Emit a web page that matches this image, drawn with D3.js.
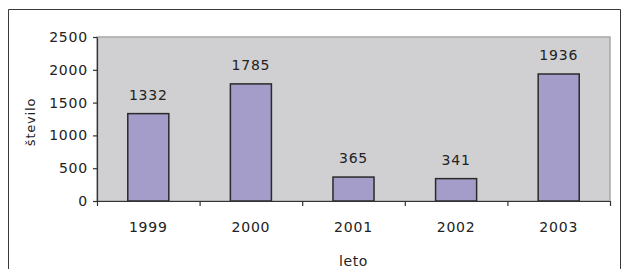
<!DOCTYPE html>
<html>
<head>
<meta charset="utf-8">
<script src="https://cdn.jsdelivr.net/npm/d3@7"></script>
<style>
  body { margin: 0; background: #fff; }
  text { font-family: "DejaVu Sans", sans-serif; fill: #222; }
</style>
</head>
<body>
<div id="chart"></div>
<script>
// Data
const years = ["1999", "2000", "2001", "2002", "2003"];
const counts = [1332, 1785, 365, 341, 1936];
const yTicks = [0, 500, 1000, 1500, 2000, 2500];

const width = 622;
const height = 269;
const margin = { top: 37, right: 12, bottom: 68, left: 97 };
const innerWidth = width - margin.left - margin.right;
const innerHeight = height - margin.top - margin.bottom;

const svg = d3.select("#chart")
  .append("svg")
  .attr("width", width)
  .attr("height", height);

// Outer frame (bottom edge runs off the picture)
svg.append("path")
  .attr("d", `M8.5,${height} V9.5 H620.5 V${height}`)
  .attr("fill", "none")
  .attr("stroke", "#3a3a3a")
  .attr("stroke-width", 1);

const chart = svg.append("g")
  .attr("transform", `translate(${margin.left},${margin.top})`);

// Plot area background
chart.append("rect")
  .attr("width", innerWidth)
  .attr("height", innerHeight)
  .attr("fill", "#d0d0d2")
  .attr("stroke", "#a8a8a8")
  .attr("stroke-width", 1.5);

// Scales
const x = d3.scaleBand()
  .domain(years)
  .range([0, innerWidth])
  .paddingInner(0.6)
  .paddingOuter(0.3);

const xEdge = d3.scaleLinear()
  .domain([0, years.length])
  .range([0, innerWidth]);

const y = d3.scaleLinear()
  .domain([0, 2500])
  .range([innerHeight, 0]);

// Bars
chart.selectAll(".bar")
  .data(counts)
  .enter()
  .append("rect")
  .attr("class", "bar")
  .attr("x", (d, i) => x(years[i]))
  .attr("y", d => y(d))
  .attr("width", x.bandwidth())
  .attr("height", d => innerHeight - y(d))
  .attr("fill", "#a59dc9")
  .attr("stroke", "#2a2a2a")
  .attr("stroke-width", 1.5);

// Value labels
chart.selectAll(".val")
  .data(counts)
  .enter()
  .append("text")
  .attr("class", "val")
  .attr("x", (d, i) => x(years[i]) + x.bandwidth() / 2)
  .attr("y", d => y(d) - 14)
  .attr("text-anchor", "middle")
  .attr("font-size", 14)
  .attr("letter-spacing", "0.8px")
  .text(d => d);

// Y axis
chart.append("g")
  .call(d3.axisLeft(y).tickValues(yTicks).tickFormat(d3.format("d"))
    .tickSize(4).tickPadding(5).tickSizeOuter(0))
  .attr("font-size", 14)
  .attr("font-family", "DejaVu Sans, sans-serif")
  .attr("letter-spacing", "0.8px");

// X axis tick marks at category edges
const xEdgeAxis = chart.append("g")
  .attr("transform", `translate(0,${innerHeight})`)
  .call(d3.axisBottom(xEdge).ticks(years.length).tickSize(5).tickSizeOuter(0));
xEdgeAxis.selectAll("text").remove();

// X axis labels
const xAxis = chart.append("g")
  .attr("transform", `translate(0,${innerHeight})`)
  .call(d3.axisBottom(x).tickSize(0).tickPadding(21))
  .attr("font-size", 14)
  .attr("font-family", "DejaVu Sans, sans-serif")
  .attr("letter-spacing", "0.8px");
xAxis.select(".domain").remove();
xAxis.selectAll("line").remove();

chart.selectAll(".domain, .tick line")
  .attr("stroke", "#333")
  .attr("stroke-width", 1.2);

// Axis titles
chart.append("text")
  .attr("x", innerWidth / 2)
  .attr("y", innerHeight + 65)
  .attr("text-anchor", "middle")
  .attr("font-size", 14)
  .attr("letter-spacing", "0.6px")
  .text("leto");

chart.append("text")
  .attr("transform", "rotate(-90)")
  .attr("x", -innerHeight / 2 - 3)
  .attr("y", -62)
  .attr("text-anchor", "middle")
  .attr("font-size", 13)
  .attr("letter-spacing", "0.8px")
  .text("število");
</script>
</body>
</html>
